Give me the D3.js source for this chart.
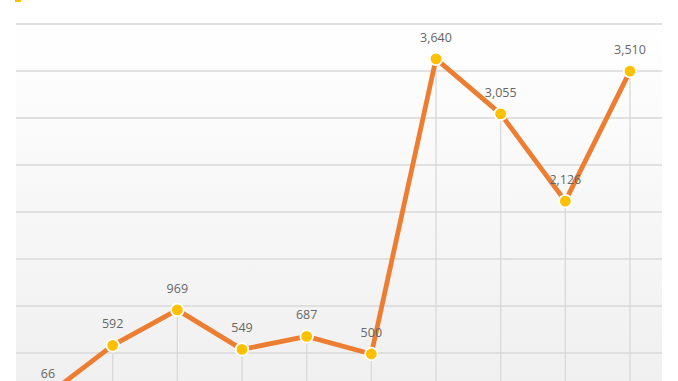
<!DOCTYPE html>
<html>
<head>
<meta charset="utf-8">
<script src="https://cdn.jsdelivr.net/npm/d3@7"></script>
<style>
  body { margin: 0; background: #fff; overflow: hidden; }
  svg { display: block; }
</style>
</head>
<body>
<svg width="678" height="381"></svg>
<script>
// data
const categories = ["1", "2", "3", "4", "5", "6", "7", "8", "9", "10"];
const values = [66, 592, 969, 549, 687, 500, 3640, 3055, 2126, 3510];
const yTicks = [500, 1000, 1500, 2000, 2500, 3000, 3500, 4000];
const seriesName = "销量（万辆）";

const svg = d3.select("svg");
const fmt = d3.format(",");

const x = d3.scalePoint().domain(categories).range([48, 630]);
const y = d3.scaleLinear().domain([0, 4000]).range([400, 24]);

// plot background gradient
const defs = svg.append("defs");
const grad = defs.append("linearGradient").attr("id", "bg")
  .attr("x1", 0).attr("y1", 0).attr("x2", 0).attr("y2", 1);
grad.append("stop").attr("offset", "0%").attr("stop-color", "#ffffff");
grad.append("stop").attr("offset", "100%").attr("stop-color", "#efefef");

svg.append("rect")
  .attr("x", 16).attr("y", y(4000))
  .attr("width", 646).attr("height", 400 - y(4000))
  .attr("fill", "url(#bg)");

// horizontal gridlines
svg.append("g")
  .selectAll("line")
  .data(yTicks)
  .enter()
  .append("line")
  .attr("x1", 16).attr("x2", 662)
  .attr("y1", d => y(d)).attr("y2", d => y(d))
  .attr("stroke", "#d9d9d9")
  .attr("stroke-width", 1.3);

// drop lines
svg.append("g")
  .selectAll("line")
  .data(values)
  .enter()
  .append("line")
  .attr("x1", (d, i) => x(categories[i])).attr("x2", (d, i) => x(categories[i]))
  .attr("y1", d => y(d)).attr("y2", 400)
  .attr("stroke", "#d9d9d9")
  .attr("stroke-width", 1.3);

// the line
const line = d3.line()
  .x((d, i) => x(categories[i]))
  .y(d => y(d) + 1);

svg.append("path")
  .datum(values)
  .attr("d", line)
  .attr("fill", "none")
  .attr("stroke", "#ed7d31")
  .attr("stroke-width", 4.8)
  .attr("stroke-linejoin", "round");

// markers
svg.append("g")
  .selectAll("circle")
  .data(values)
  .enter()
  .append("circle")
  .attr("cx", (d, i) => x(categories[i]))
  .attr("cy", d => y(d) + 1)
  .attr("r", 6.3)
  .attr("fill", "#ffc000")
  .attr("stroke", "#ffffff")
  .attr("stroke-width", 1.8);

// value labels
svg.append("g")
  .selectAll("text")
  .data(values)
  .enter()
  .append("text")
  .attr("x", (d, i) => x(categories[i]))
  .attr("y", d => Math.min(y(d) - 16, 380))
  .attr("text-anchor", "middle")
  .attr("font-family", "Open Sans, sans-serif")
  .attr("font-size", 12.5)
  .attr("fill", "#666666")
  .text(d => fmt(d));

// legend, mostly cut off by the top edge
svg.append("rect")
  .attr("x", 15).attr("y", -4)
  .attr("width", 6).attr("height", 6)
  .attr("fill", "#ffc000");
svg.append("text")
  .attr("x", 28).attr("y", -2)
  .attr("font-family", "Noto Sans CJK SC, sans-serif")
  .attr("font-size", 12)
  .attr("fill", "#595959")
  .text(seriesName);
</script>
</body>
</html>
